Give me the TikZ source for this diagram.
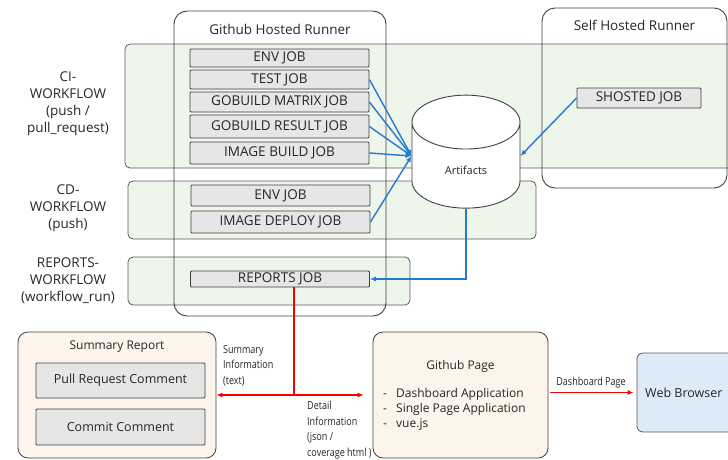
\documentclass[tikz,border=0pt]{standalone}
\usepackage{fontspec}
\setmainfont{Open Sans}
\newfontfamily\narrowfont{Open Sans}[FakeStretch=0.82]
\usetikzlibrary{shapes.geometric,arrows.meta}
\definecolor{bandgreen}{HTML}{EEF5EA}
\definecolor{bandline}{HTML}{5A5A5A}
\definecolor{jobgray}{HTML}{E6E6E6}
\definecolor{jobline}{HTML}{404040}
\definecolor{beige}{HTML}{FDF5EB}
\definecolor{webblue}{HTML}{DDEBF8}
\definecolor{arrowblue}{HTML}{2479D3}
\definecolor{txt}{HTML}{262626}
\begin{document}
\begin{tikzpicture}[x=1pt,y=-1pt,text=txt,
		band/.style={draw=bandline, fill=bandgreen, rounded corners=5pt, line width=0.8pt},
		runner/.style={draw=jobline, rounded corners=13pt, line width=0.9pt},
		job/.style={draw=jobline, fill=jobgray, rounded corners=1pt, line width=0.8pt,
			minimum width=179pt, inner sep=0pt, font=\fontsize{13.5}{16}\selectfont},
		panel/.style={draw=jobline, fill=beige, rounded corners=10pt, line width=0.8pt},
		lbl/.style={align=center, font=\fontsize{13.5}{17}\selectfont},
		small/.style={align=left, inner sep=0pt, font=\narrowfont\fontsize{11}{15.5}\selectfont},
		bluearrow/.style={draw=arrowblue, line width=1.4pt, -{Latex[length=6pt,width=5pt]}},
		redarrow/.style={draw=red, line width=1.6pt, -{Latex[length=6pt,width=5pt]}}
	]
	\useasboundingbox (0,0) rectangle (728,459);
	\clip (0,0) rectangle (728,459);
	% workflow bands
	\node[band, minimum width=611pt, minimum height=124pt] (ci) at (430.5,106) {};
	\node[band, minimum width=408pt, minimum height=58pt] (cd) at (332,210) {};
	\node[band, minimum width=282pt, minimum height=48pt] (rp) at (269,281) {};
	\node[lbl] (cilbl) at (68,104) {CI-\\WORKFLOW\\(push /\\pull\_request)};
	\node[lbl] (cdlbl) at (68,208) {CD-\\WORKFLOW\\(push)};
	\node[lbl] (rplbl) at (68,281) {REPORTS-\\WORKFLOW\\(workflow\_run)};
	% runners
	\node[runner, minimum width=212pt, minimum height=305pt] (ghr) at (280,163.5) {};
	\node[lbl] (ghrlbl) at (280,29) {Github Hosted Runner};
	\node[runner, minimum width=185pt, minimum height=180pt] (shr) at (634.5,98) {};
	\node[lbl] (shrlbl) at (634.5,25) {Self Hosted Runner};
	% jobs
	\node[job, minimum height=18pt] (cienv) at (279.5,58) {ENV JOB};
	\node[job, minimum height=19pt] (test) at (279.5,79.5) {TEST JOB};
	\node[job, minimum height=20pt] (gomat) at (279.5,102) {GOBUILD MATRIX JOB};
	\node[job, minimum height=23pt] (gores) at (279.5,126.5) {GOBUILD RESULT JOB};
	\node[job, minimum height=22pt] (imgb) at (279.5,153) {IMAGE BUILD JOB};
	\node[job, minimum height=21pt] (cdenv) at (280.5,195.5) {ENV JOB};
	\node[job, minimum height=22pt] (imgd) at (280.5,222) {IMAGE DEPLOY JOB};
	\node[job, minimum height=16pt] (rep) at (280,279) {REPORTS JOB};
	\node[job, minimum width=124pt, minimum height=20pt] (shj) at (639,98) {SHOSTED JOB};
	% artifacts store
	\node[cylinder, shape border rotate=90, draw=jobline, fill=white, line width=0.9pt,
		aspect=1.1, minimum width=108pt, minimum height=113pt,
		font=\fontsize{11}{13}\selectfont] (art) at (466,170) {Artifacts};
	\foreach \j in {test,gomat,gores,imgb,imgd}
		\draw[bluearrow] (\j.east) -- ([yshift=14pt]art.west);
	\draw[bluearrow] (shj.west) -- ([yshift=14pt]art.east);
	\draw[bluearrow] (art.south) |- (rep.east);
	% outputs
	\node[panel, minimum width=198pt, minimum height=126pt] (sum) at (117,395) {};
	\node[font=\fontsize{12}{14}\selectfont] (sumlbl) at (117,347) {Summary Report};
	\node[job, minimum width=169pt, minimum height=35pt, font=\fontsize{12.5}{15}\selectfont] (prc) at (120.5,380.5) {Pull Request Comment};
	\node[job, minimum width=169pt, minimum height=36pt, font=\fontsize{12.5}{15}\selectfont] (cmc) at (120.5,427) {Commit Comment};
	\node[panel, minimum width=175pt, minimum height=126pt] (gp) at (460.5,395) {};
	\node[font=\fontsize{12}{14}\selectfont] (gplbl) at (460.5,366) {Github Page};
	\node[align=left, anchor=north west, inner sep=0pt, font=\fontsize{12}{15}\selectfont] (gplist) at (383,388)
		{\makebox[13pt][l]{-}Dashboard Application\\\makebox[13pt][l]{-}Single Page Application\\\makebox[13pt][l]{-}vue.js};
	\node[draw=bandline, fill=webblue, rounded corners=6pt, line width=0.8pt,
		minimum width=111pt, minimum height=79pt] (web) at (692.5,392.5) {};
	\node[anchor=west, inner sep=0pt, font=\fontsize{12.5}{15}\selectfont] (weblbl) at (645,392.5) {Web Browser};
	% report flows
	\coordinate (jn) at (294,395);
	\draw[red, line width=1.6pt] (rep.south -| jn) -- (jn);
	\draw[redarrow] (jn) -- (sum.east);
	\draw[redarrow, shorten >=9pt] (jn) -- (gp.west);
	\draw[redarrow, shorten <=2pt, shorten >=3pt] (gp.east |- web.west) -- (web.west);
	\node[small, anchor=north west] (sumtxt) at (223,345) {Summary\\Information\\(text)};
	\node[small, anchor=north west] (dettxt) at (307,401) {Detail\\Information\\(json /\\coverage html )};
	\node[small] (dashtxt) at (591,383) {Dashboard Page};
\end{tikzpicture}
\end{document}
